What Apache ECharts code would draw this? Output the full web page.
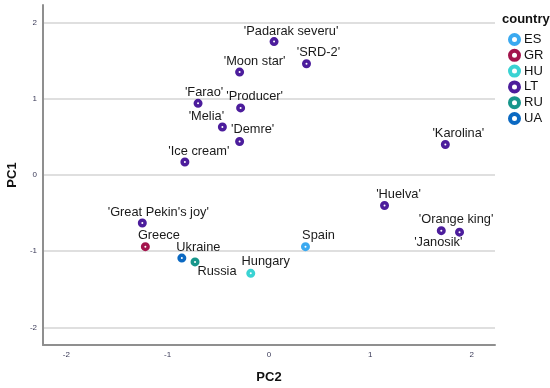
<!DOCTYPE html>
<html>
<head>
<meta charset="utf-8">
<script src="https://cdn.jsdelivr.net/npm/echarts@6/dist/echarts.min.js"></script>
<style>
  html, body { margin: 0; padding: 0; background: #fff; }
  #e_chart_1 { width: 550px; height: 388px; }
</style>
</head>
<body>
<div id="e_chart_1"></div>
<script>
var cultivars = ["'Padarak severu'", "'Moon star'", "'SRD-2'", "'Farao'", "'Producer'", "'Melia'",
    "'Demre'", "'Ice cream'", "'Karolina'", "'Huelva'", "'Orange king'", "'Janosik'", "Spain",
    "'Great Pekin's joy'", "Greece", "Ukraine", "Russia", "Hungary"];
var pc2 = [0.05, -0.29, 0.37, -0.70, -0.28, -0.46, -0.29, -0.83, 1.74, 1.14, 1.88, 1.70, 0.36,
    -1.25, -1.22, -0.86, -0.73, -0.18];
var pc1 = [1.75, 1.35, 1.46, 0.94, 0.88, 0.63, 0.44, 0.17, 0.40, -0.40, -0.75, -0.73, -0.94,
    -0.63, -0.94, -1.09, -1.14, -1.29];
var country = ['LT', 'LT', 'LT', 'LT', 'LT', 'LT', 'LT', 'LT', 'LT', 'LT', 'LT', 'LT', 'ES',
    'LT', 'GR', 'UA', 'RU', 'HU'];
var countries = ['ES', 'GR', 'HU', 'LT', 'RU', 'UA'];
var axisTicks = [-2, -1, 0, 1, 2];

var countryColors = {
    ES: '#3aa9f0',
    GR: '#a3144c',
    HU: '#3ad3d3',
    LT: '#4c1d9c',
    RU: '#17968b',
    UA: '#0b69c2'
};

// label placement around each point, [dx, dy] in pixels
var labelOffsets = {
    "'Padarak severu'": [17, -10],
    "'Moon star'": [15, -11],
    "'SRD-2'": [12, -11],
    "'Farao'": [6, -11],
    "'Producer'": [14, -11],
    "'Melia'": [-16, -10],
    "'Demre'": [13, -11.5],
    "'Ice cream'": [14, -11],
    "'Karolina'": [13, -11],
    "'Huelva'": [14, -11.5],
    "'Orange king'": [-3.5, -13],
    "'Janosik'": [-3, 12],
    "Spain": [13, -11.5],
    "'Great Pekin's joy'": [16, -11],
    "Greece": [13.5, -11.5],
    "Ukraine": [16.5, -11],
    "Russia": [22, 10],
    "Hungary": [15, -11.5]
};

var FONT = '"Liberation Sans", Arial, sans-serif';

var dom = document.getElementById("e_chart_1");
var myChart = echarts.init(dom);

var series = countries.map(function (c) {
    var pts = [];
    for (var i = 0; i < cultivars.length; i++) {
        if (country[i] !== c) continue;
        var off = labelOffsets[cultivars[i]] || [0, -11];
        pts.push({
            name: cultivars[i],
            value: [pc2[i], pc1[i]],
            label: { offset: off }
        });
    }
    return {
        name: c,
        type: 'scatter',
        symbol: 'circle',
        symbolSize: 5.5,
        itemStyle: {
            color: '#fff',
            borderColor: countryColors[c],
            borderWidth: 3.5,
            opacity: 1
        },
        label: {
            show: true,
            position: 'inside',
            formatter: '{b}',
            color: '#1a1a1a',
            fontFamily: FONT,
            fontSize: 12.8
        },
        emphasis: { disabled: true },
        data: pts
    };
});

function tickLabel(v) {
    return axisTicks.indexOf(v) >= 0 ? String(v) : '';
}

var option = {
    animation: false,
    title: {
        text: 'country',
        left: 497,
        top: 8,
        textStyle: {
            fontFamily: FONT,
            fontSize: 13,
            fontWeight: 'bold',
            color: '#111'
        }
    },
    legend: {
        orient: 'vertical',
        left: 503,
        top: 28,
        itemWidth: 9,
        itemHeight: 9,
        itemGap: 2.8,
        icon: 'circle',
        itemStyle: {
            color: '#fff',
            borderWidth: 4
        },
        textStyle: {
            fontFamily: FONT,
            fontSize: 13,
            color: '#111',
            lineHeight: 13
        },
        data: countries
    },
    grid: {
        left: 43,
        right: 55,
        top: 5,
        bottom: 43,
        containLabel: false,
        outerBoundsMode: 'none'
    },
    xAxis: {
        type: 'value',
        min: -2.23,
        max: 2.23,
        name: 'PC2',
        nameLocation: 'middle',
        nameGap: 26,
        nameTextStyle: {
            fontFamily: FONT,
            fontSize: 13,
            fontWeight: 'bold',
            color: '#111'
        },
        axisLine: { show: true, onZero: false, lineStyle: { color: '#8f8f8f', width: 2 } },
        axisTick: { show: false },
        axisLabel: {
            showMinLabel: false,
            showMaxLabel: false,
            margin: 6,
            fontFamily: FONT,
            fontSize: 8,
            color: '#3a3a58',
            formatter: tickLabel
        },
        splitLine: { show: false }
    },
    yAxis: {
        type: 'value',
        min: -2.23,
        max: 2.23,
        name: 'PC1',
        nameLocation: 'middle',
        nameGap: 23,
        nameRotate: 90,
        nameTextStyle: {
            fontFamily: FONT,
            fontSize: 13,
            fontWeight: 'bold',
            color: '#111'
        },
        axisLine: { show: true, onZero: false, lineStyle: { color: '#8f8f8f', width: 2 } },
        axisTick: { show: false },
        axisLabel: {
            showMinLabel: false,
            showMaxLabel: false,
            margin: 6,
            fontFamily: FONT,
            fontSize: 8,
            color: '#3a3a58',
            formatter: tickLabel
        },
        splitLine: {
            show: true,
            showMinLine: false,
            showMaxLine: false,
            lineStyle: { color: '#d4d4d4', width: 1.5 }
        }
    },
    series: series
};

if (option && typeof option === "object") {
    myChart.setOption(option, true);
}
</script>
</body>
</html>
